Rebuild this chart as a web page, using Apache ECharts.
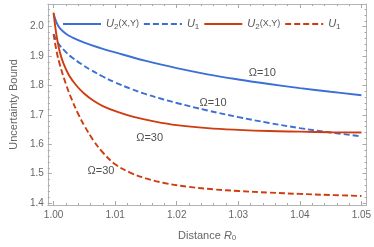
<!DOCTYPE html>
<html><head><meta charset="utf-8">
<script src="https://cdn.jsdelivr.net/npm/echarts@6/dist/echarts.min.js"></script>
<style>html,body{margin:0;padding:0;background:#fff}#c{width:374px;height:247px}</style>
</head><body><div id="c"></div>
<script>
// ---- tick values ----
const xTicks = [1.00, 1.01, 1.02, 1.03, 1.04, 1.05];
const xMinor = [1.002,1.004,1.006,1.008,1.012,1.014,1.016,1.018,1.022,1.024,1.026,1.028,1.032,1.034,1.036,1.038,1.042,1.044,1.046,1.048];
const yTicks = [1.4, 1.5, 1.6, 1.7, 1.8, 1.9, 2.0];
const yMinor = [1.42,1.44,1.46,1.48,1.52,1.54,1.56,1.58,1.62,1.64,1.66,1.68,1.72,1.74,1.76,1.78,1.82,1.84,1.86,1.88,1.92,1.94,1.96,1.98,2.02,2.04,2.06];
const xRange = [0.99906, 1.05083];
const yRange = [1.3933, 2.0773];

// ---- series: Omega = 10 ----
const u2w10R = [1.0, 1.0005, 1.001, 1.002, 1.003, 1.005, 1.0075, 1.01, 1.015, 1.02, 1.025, 1.03, 1.035, 1.04, 1.045, 1.05];
const u2w10  = [2.044, 2.013, 1.995, 1.976, 1.964, 1.946, 1.928, 1.9125, 1.8835, 1.859, 1.838, 1.8205, 1.805, 1.791, 1.7785, 1.767];
const u1w10R = [1.0, 1.0005, 1.001, 1.002, 1.003, 1.0045, 1.006, 1.008, 1.01, 1.0125, 1.015, 1.0175, 1.02, 1.025, 1.03, 1.035, 1.04, 1.045, 1.05];
const u1w10  = [1.975, 1.9525, 1.9365, 1.9135, 1.8955, 1.873, 1.8535, 1.8305, 1.8105, 1.789, 1.7705, 1.7548, 1.7405, 1.715, 1.6925, 1.6725, 1.655, 1.64, 1.627];
// ---- series: Omega = 30 ----
const u2w30R = [1.0, 1.0003, 1.0006, 1.001, 1.0016, 1.0025, 1.0037, 1.005, 1.0065, 1.008, 1.0105, 1.013, 1.0165, 1.02, 1.025, 1.03, 1.035, 1.04, 1.045, 1.05];
const u2w30  = [2.048, 1.995, 1.955, 1.915, 1.875, 1.835, 1.80, 1.772, 1.748, 1.73, 1.709, 1.693, 1.677, 1.665, 1.655, 1.649, 1.645, 1.643, 1.641, 1.64];
const u1w30R = [1.0, 1.0005, 1.001, 1.002, 1.003, 1.004, 1.005, 1.0065, 1.008, 1.01, 1.0125, 1.015, 1.018, 1.022, 1.026, 1.03, 1.035, 1.04, 1.045, 1.05];
const u1w30  = [1.975, 1.915, 1.872, 1.805, 1.75, 1.703, 1.663, 1.612, 1.572, 1.532, 1.503, 1.484, 1.468, 1.455, 1.4465, 1.441, 1.4355, 1.431, 1.4273, 1.424];

// ---- annotations ----
const annoText = ['Ω=10', 'Ω=10', 'Ω=30', 'Ω=30'];
const annoR = [1.0339, 1.0259, 1.0156, 1.0077];
const annoV = [1.842, 1.741, 1.620, 1.509];

const BLUE = '#3b6fd6', RED = '#cf3c10';
const FONT = '"Liberation Sans", Arial, sans-serif';
const frame = '#b4b4b4', tickC = '#a8a8a8', labC = '#666';
const zip = (a, b) => a.map((v, i) => [v, b[i]]);

function xAx(pos, vals, len, labels, line) {
  return {type:'value', position:pos, min:xRange[0], max:xRange[1],
    axisLine:{show:line, onZero:false, lineStyle:{color:frame, width:1}},
    axisTick:{show:true, inside:true, length:len, customValues:vals, lineStyle:{color:tickC}},
    axisLabel:{show:labels, customValues:xTicks, margin:5, color:labC, fontSize:10, fontFamily:FONT, formatter:v=>v.toFixed(2)},
    splitLine:{show:false}};
}
function yAx(pos, vals, len, labels, line) {
  return {type:'value', position:pos, min:yRange[0], max:yRange[1],
    axisLine:{show:line, onZero:false, lineStyle:{color:frame, width:1}},
    axisTick:{show:true, inside:true, length:len, customValues:vals, lineStyle:{color:tickC}},
    axisLabel:{show:labels, customValues:yTicks, margin:4, color:labC, fontSize:10, fontFamily:FONT, formatter:v=>v.toFixed(1)},
    splitLine:{show:false}};
}
const xAxes = [xAx('bottom', xTicks, 4, true, true), xAx('bottom', xMinor, 2, false, false),
               xAx('top', xTicks, 4, false, true), xAx('top', xMinor, 2, false, false)];
xAxes[0].name = '{a|Distance }{i|R}{s|0}';
xAxes[0].nameLocation = 'middle';
xAxes[0].nameGap = 24;
xAxes[0].nameTextStyle = {color:labC, fontFamily:FONT, rich:{
  a:{fontSize:11, color:labC, fontFamily:FONT},
  i:{fontSize:11, fontStyle:'italic', color:labC, fontFamily:FONT},
  s:{fontSize:8, color:labC, fontFamily:FONT, padding:[5,0,0,0]}}};
const yAxes = [yAx('left', yTicks, 4, true, true), yAx('left', yMinor, 2, false, false),
               yAx('right', yTicks, 4, false, true), yAx('right', yMinor, 2, false, false)];
yAxes[0].name = 'Uncertainty Bound';
yAxes[0].nameLocation = 'middle';
yAxes[0].nameGap = 26;
yAxes[0].nameTextStyle = {color:labC, fontSize:11, fontFamily:FONT};

function lineSeries(name, r, v, color, dashed) {
  return {name, type:'line', xAxisIndex:0, yAxisIndex:0, data:zip(r, v), symbol:'none',
    smooth:0.4, clip:true,
    lineStyle:{color, width:1.9, type: dashed ? [6,3] : 'solid'}, itemStyle:{color}};
}

const chart = echarts.init(document.getElementById('c'), null, {renderer:'canvas'});
chart.setOption({
  animation:false,
  backgroundColor:'#fff',
  grid:{left:37, top:4, width:331, height:203.5, containLabel:false},
  xAxis:xAxes, yAxis:yAxes,
  legend:{
    data:['U2a','U1a','U2b','U1b'], left:57, top:13, itemWidth:38, itemHeight:10, itemGap:4,
    itemStyle:{color:'rgba(0,0,0,0)', borderWidth:0, opacity:0},
    formatter: n => n.startsWith('U2') ? '{u|U}{s|2}{t|(X,Y)}' : '{u|U}{s|1}{p|}',
    textStyle:{color:'#555', fontFamily:FONT, rich:{
      u:{fontSize:11, fontStyle:'italic', color:'#555', fontFamily:FONT},
      s:{fontSize:8, color:'#555', fontFamily:FONT, padding:[5,0,0,0]},
      t:{fontSize:9, color:'#555', fontFamily:FONT},
      p:{width:7}}}
  },
  series:[
    lineSeries('U2a', u2w10R, u2w10, BLUE, false),
    lineSeries('U1a', u1w10R, u1w10, BLUE, true),
    lineSeries('U2b', u2w30R, u2w30, RED, false),
    lineSeries('U1b', u1w30R, u1w30, RED, true),
    {name:'anno', type:'scatter', xAxisIndex:0, yAxisIndex:0, symbolSize:1,
     itemStyle:{color:'rgba(0,0,0,0)'},
     data: annoText.map((t, i) => ({name:t, value:[annoR[i], annoV[i]]})),
     label:{show:true, position:'inside', formatter:'{b}', color:'#222', fontSize:11, fontFamily:FONT},
     labelLayout:{hideOverlap:false},
     silent:true, z:5}
  ]
});
</script></body></html>
